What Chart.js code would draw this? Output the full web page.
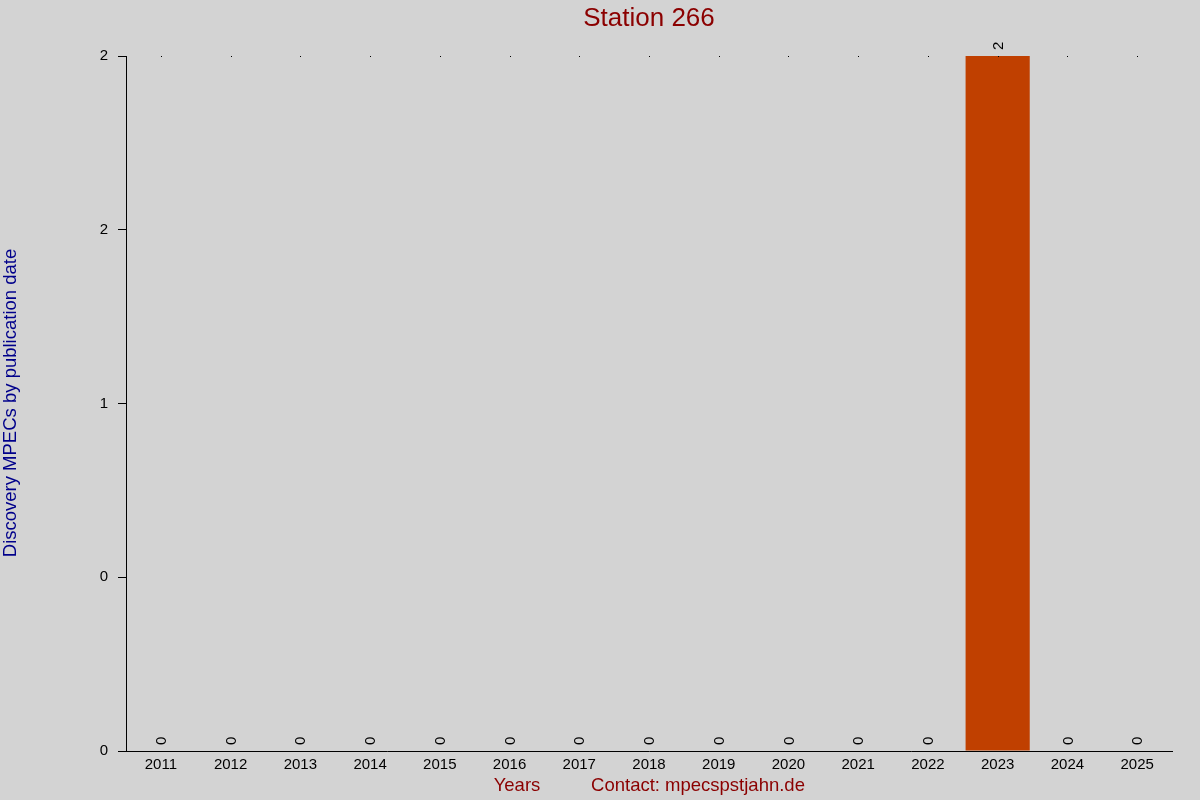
<!DOCTYPE html>
<html>
<head>
<meta charset="utf-8">
<script src="https://cdn.jsdelivr.net/npm/chart.js@4/dist/chart.umd.min.js"></script>
<style>
  html, body { margin: 0; padding: 0; background: #d3d3d3; }
  #wrap { width: 1200px; height: 800px; }
</style>
</head>
<body>
<div id="wrap"><canvas id="c" width="1200" height="800"></canvas></div>
<script>
/* Station 266 — discovery MPECs per year */
const YEARS = ["2011","2012","2013","2014","2015","2016","2017","2018","2019","2020","2021","2022","2023","2024","2025"];
const COUNTS = [0,0,0,0,0,0,0,0,0,0,0,0,2,0,0];
const Y_TICK_VALUES = [0, 0.5, 1, 1.5, 2];
const Y_TICK_LABELS = ["0","0","1","2","2"];
const Y_MAX = 2;

const FONT = "'Liberation Sans', Arial, sans-serif";

/* texts around the plot + value labels above the bars */
const decor = {
  id: "decor",
  afterDatasetsDraw(chart) {
    const { ctx, scales: { x, y } } = chart;
    ctx.save();
    // value labels, rotated
    ctx.fillStyle = "#000";
    ctx.font = "15px " + FONT;
    ctx.textAlign = "left";
    ctx.textBaseline = "middle";
    COUNTS.forEach((v, i) => {
      const px = x.getPixelForValue(i);
      const py = y.getPixelForValue(v);
      ctx.save();
      ctx.translate(px + 1, py - 6);
      ctx.rotate(-Math.PI / 2);
      ctx.fillText(String(v), 0, 0);
      ctx.restore();
    });
    // tiny dots along the top
    YEARS.forEach((_, i) => {
      ctx.fillRect(Math.round(x.getPixelForValue(i)), Math.round(y.getPixelForValue(Y_MAX)), 1, 1);
    });
    // title
    ctx.fillStyle = "#8b0000";
    ctx.textAlign = "center";
    ctx.textBaseline = "middle";
    ctx.font = "26px " + FONT;
    ctx.fillText("Station 266", 649, 19);
    // x title
    ctx.font = "18.5px " + FONT;
    ctx.fillText("Years", 517, 786);
    ctx.fillText("Contact: mpecspstjahn.de", 698, 786);
    // y title
    ctx.fillStyle = "#00008b";
    ctx.save();
    ctx.translate(11, 403);
    ctx.rotate(-Math.PI / 2);
    ctx.fillText("Discovery MPECs by publication date", 0, 0);
    ctx.restore();
    ctx.restore();
  }
};

new Chart(document.getElementById("c"), {
  type: "bar",
  data: {
    labels: YEARS,
    datasets: [{
      data: COUNTS,
      backgroundColor: "#c04000",
      borderWidth: 0,
      barPercentage: 0.92,
      categoryPercentage: 1
    }]
  },
  options: {
    responsive: false,
    animation: false,
    devicePixelRatio: 1,
    layout: { padding: { top: 56, right: 28, left: 0, bottom: 0 } },
    plugins: { legend: { display: false }, tooltip: { enabled: false } },
    scales: {
      x: {
        grid: { display: false, drawTicks: false },
        border: { display: true, color: "#000", width: 1 },
        ticks: { color: "#000", font: { size: 15, family: FONT }, padding: 5, maxRotation: 0 },
        afterFit(s) { s.height = 49; }
      },
      y: {
        min: 0,
        max: Y_MAX,
        afterBuildTicks(s) { s.ticks = Y_TICK_VALUES.map(v => ({ value: v })); },
        grid: { drawOnChartArea: false, drawTicks: true, tickLength: 8, color: "#000" },
        border: { display: true, color: "#000", width: 1 },
        ticks: {
          color: "#000",
          font: { size: 15, family: FONT },
          padding: 10,
          callback: (v, i) => Y_TICK_LABELS[i]
        },
        afterFit(s) { s.width = 126; }
      }
    }
  },
  plugins: [decor]
});
</script>
</body>
</html>
